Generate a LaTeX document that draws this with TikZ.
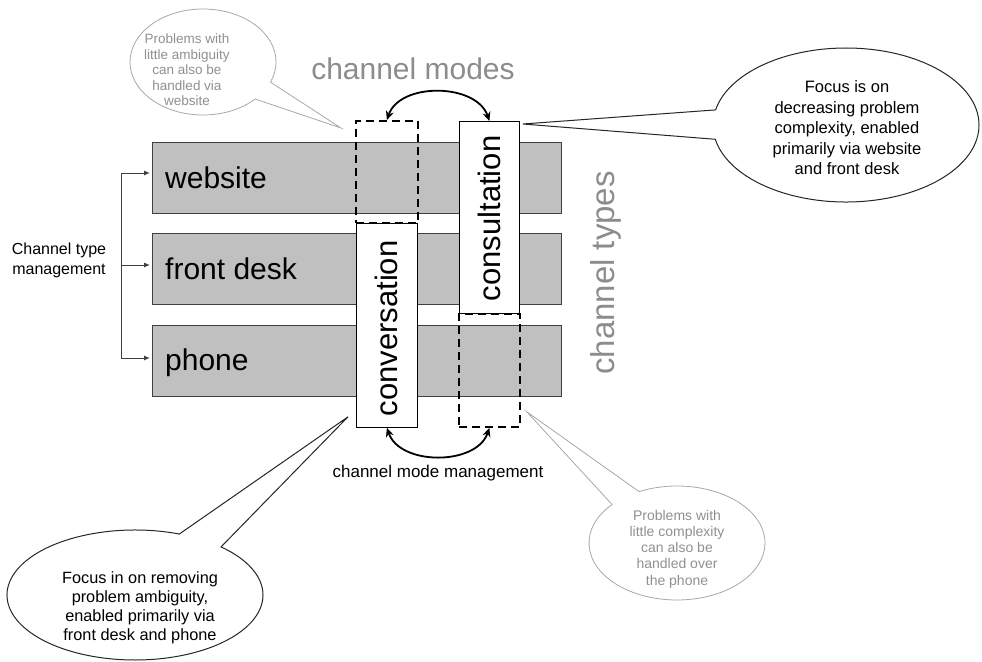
\documentclass[tikz,border=0pt]{standalone}
\usepackage{fontspec}
\setmainfont{Liberation Sans}
\usetikzlibrary{shapes.callouts,arrows.meta,calc}

\definecolor{barfill}{HTML}{C0C0C0}
\definecolor{barline}{HTML}{404040}
\definecolor{softgray}{HTML}{8C8C8C}
\definecolor{notegray}{HTML}{A8A8A8}
\definecolor{notetext}{HTML}{909090}

\tikzset{
  channelbar/.style={draw=barline, fill=barfill, line width=0.8pt, inner sep=0pt,
    minimum width=409pt, minimum height=71pt, anchor=north west},
  barlabel/.style={anchor=west, inner sep=0pt, font=\fontsize{30}{33}\selectfont},
  modebox/.style={draw=black, fill=white, line width=0.8pt, inner sep=0pt, anchor=north west},
  ghostbox/.style={draw=black, dash pattern=on 8pt off 5pt, line width=1.8pt,
    inner sep=0pt, anchor=north west},
  modelabel/.style={rotate=90, inner sep=0pt, font=\fontsize{31}{34}\selectfont},
  modearrow/.style={{Stealth[length=9pt,width=8pt]}-{Stealth[length=9pt,width=8pt]},
    line width=1.8pt, black},
  forkarrow/.style={-{Latex[length=6pt,width=5pt]}, line width=1pt, barline},
  darknote/.style={ellipse callout, draw=black!85, fill=white, line width=1pt,
    inner sep=0pt, callout pointer arc=22},
  lightnote/.style={ellipse callout, draw=notegray, fill=white, line width=0.8pt,
    inner sep=0pt, callout pointer arc=22},
  notetxt/.style={align=center, inner sep=0pt},
}

\begin{document}
\begin{tikzpicture}[x=1pt,y=1pt]
\useasboundingbox (0,0) rectangle (982,-661);

% channel types
\node[channelbar] (web)   at (152,-142) {};
\node[channelbar] (desk)  at (152,-233) {};
\node[channelbar] (phone) at (152,-325) {};
\node[barlabel] (webL)   at ($(web.west)+(13,0)$)   {website};
\node[barlabel] (deskL)  at ($(desk.west)+(13,0)$)  {front desk};
\node[barlabel] (phoneL) at ($(phone.west)+(13,-2)$) {phone};

% channel modes (solid = primary, dashed = secondary)
\node[ghostbox, minimum width=62pt, minimum height=102pt] (ghostTop) at (355,-120) {};
\node[modebox, minimum width=61pt, minimum height=204pt] (conv) at (356,-223) {};
\node[modebox, minimum width=60pt, minimum height=192pt] (consult) at (459,-121) {};
\node[ghostbox, minimum width=61pt, minimum height=113pt] (ghostBot) at (458,-313) {};
\node[modelabel] (convL) at ($(conv.center)+(0,-3)$) {conversation};
\node[modelabel] (consultL) at ($(consult.center)+(0,-1)$) {consultation};

% mode switching arrows
\draw[modearrow] (ghostTop.north) .. controls +(13,38) and +(-13,38) .. (consult.north);
\draw[modearrow] (conv.south) .. controls +(13,-38) and +(-13,-38) .. (ghostBot.south);

% headings
\node[anchor=base, text=softgray, font=\fontsize{30}{33}\selectfont, inner sep=0pt]
  (modesT) at (413,-79) {channel modes};
\node[rotate=90, text=softgray, font=\fontsize{33}{36}\selectfont, inner sep=0pt]
  (typesT) at (606,-273) {channel types};
\node[font=\fontsize{17}{20}\selectfont, inner sep=0pt] (modeMgmt) at (438,-473)
  {channel mode management};

% channel type management fork
\node[align=center, font=\fontsize{16}{20}\selectfont, inner sep=0pt] (typeMgmt)
  at (59,-260) {Channel type\\management};
\coordinate (fk1) at (121,-173);
\coordinate (fk2) at (121,-265);
\coordinate (fk3) at (121,-358);
\draw[line width=1pt, barline] (fk1) -- (fk3);
\draw[forkarrow, shorten >=2pt] (fk1) -- (fk1 -| web.west);
\draw[forkarrow, shorten >=2pt] (fk2) -- (fk2 -| desk.west);
\draw[forkarrow, shorten >=2pt] (fk3) -- (fk3 -| phone.west);

% callouts
\coordinate (tipA) at ($(ghostTop.north west)+(-14,-8)$);
\coordinate (tipB) at ($(consult.north east)+(3,-3)$);
\coordinate (tipC) at ($(conv.south west)+(-8,11)$);
\coordinate (tipD) at ($(ghostBot.south east)+(6,16)$);

\node[lightnote, minimum width=146pt, minimum height=106pt,
  callout absolute pointer={(tipA)}] (noteA) at (203,-62) {};
\node[notetxt, text=notetext, font=\fontsize{13.5}{15.5}\selectfont] (noteAT) at (187,-70)
  {Problems with\\little ambiguity\\can also be\\handled via\\website};

\node[darknote, minimum width=266pt, minimum height=154pt,
  callout absolute pointer={(tipB)}] (noteB) at (846,-125) {};
\node[notetxt, font=\fontsize{16.5}{20.5}\selectfont] (noteBT) at (847,-128)
  {Focus is on\\decreasing problem\\complexity, enabled\\primarily via website\\and front desk};

\node[darknote, minimum width=256pt, minimum height=130pt,
  callout absolute pointer={(tipC)}] (noteC) at (135,-595) {};
\node[notetxt, font=\fontsize{16.3}{19}\selectfont] (noteCT) at (140,-608)
  {Focus in on removing\\problem ambiguity,\\enabled primarily via\\front desk and phone};

\node[lightnote, minimum width=176pt, minimum height=114pt,
  callout absolute pointer={(tipD)}] (noteD) at (677,-543) {};
\node[notetxt, text=notetext, font=\fontsize{14}{16.3}\selectfont] (noteDT) at (677,-549)
  {Problems with\\little complexity\\can also be\\handled over\\the phone};
\end{tikzpicture}
\end{document}
